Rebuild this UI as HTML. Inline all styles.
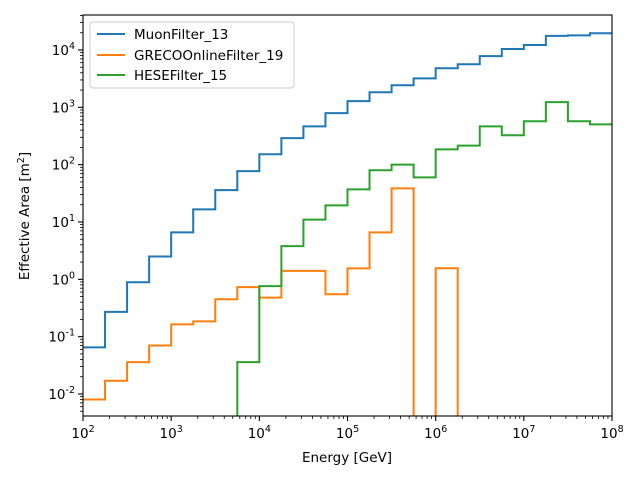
<!DOCTYPE html>
<html><head><meta charset="utf-8"><style>
body{margin:0;background:#fff;position:relative;}
svg{display:block;}
text{font-family:"DejaVu Sans","Liberation Sans",sans-serif;}
</style></head><body>
<svg id="chart" width="640" height="480" xmlns="http://www.w3.org/2000/svg"></svg>
<script>
const binEdgesLog = [2,2.25,2.5,2.75,3,3.25,3.5,3.75,4,4.25,4.5,4.75,5,5.25,5.5,5.75,6,6.25,6.5,6.75,7,7.25,7.5,7.75,8];
const muonValues = [0.065,0.27,0.89,2.5,6.6,16.6,36,77,152,290,466,790,1280,1830,2420,3200,4800,5630,7800,10400,12200,17600,18000,19600];
const grecoValues = [0.008,0.017,0.036,0.07,0.164,0.185,0.45,0.73,0.48,1.4,1.4,0.55,1.55,6.6,38.6,0,1.56,0,0,0,0,0,0,0];
const heseValues = [0,0,0,0,0,0,0,0.036,0.76,3.8,11,19.5,37,80,100,60,185,215,466,325,570,1230,570,505];
const seriesNames = ["MuonFilter_13","GRECOOnlineFilter_19","HESEFilter_15"];
const xTickLabels = ["2","3","4","5","6","7","8"];
const yTickExps = ["-2","-1","0","1","2","3","4"];

const L=83,R=612,T=15,B=416;
const xmin=2,xmax=8,ymin=-2.384,ymax=4.61;
const sx=v=>L+(v-xmin)/(xmax-xmin)*(R-L);
const sy=v=>{if(v<=0)return B+5;const l=Math.log10(v);return B-(l-ymin)/(ymax-ymin)*(B-T);};
const svg=document.getElementById('chart');
const NS='http://www.w3.org/2000/svg';
function mk(tag,attrs,parent){const e=document.createElementNS(NS,tag);for(const k in attrs)e.setAttribute(k,attrs[k]);(parent||svg).appendChild(e);return e;}
const defs=mk('defs',{});const cp=mk('clipPath',{id:'clip'},defs);mk('rect',{x:L,y:T,width:R-L,height:B-T},cp);
const colors=['#1f77b4','#ff7f0e','#2ca02c'];
[muonValues,grecoValues,heseValues].forEach((vals,si)=>{
  let d='';
  for(let i=0;i<vals.length;i++){
    const x0=sx(binEdgesLog[i]),x1=sx(binEdgesLog[i+1]),y=sy(vals[i]);
    d+=(i===0?'M':'L')+x0+','+y+' L'+x1+','+y+' ';
  }
  const p=mk('path',{d:d,fill:'none',stroke:colors[si],'stroke-width':2,'clip-path':'url(#clip)'});
  
  
});
const fr=mk('rect',{x:L,y:T,width:R-L,height:B-T,fill:'none',stroke:'#000','stroke-width':1.1});


xTickLabels.forEach(e=>{
  const v=+e,x=sx(v);
  mk('line',{x1:x,y1:B,x2:x,y2:B+5,stroke:'#000','stroke-width':1.1});
  const t=mk('text',{x:x,y:B+22,'text-anchor':'middle','font-size':13.5});
  
  
  t.innerHTML='10<tspan dy="-6" font-size="9.5">'+e+'</tspan>';
  if(v<8)for(let k=2;k<10;k++){const xm=sx(v+Math.log10(k));mk('line',{x1:xm,y1:B,x2:xm,y2:B+3,stroke:'#000','stroke-width':0.8});}
});
yTickExps.forEach(e=>{
  const v=+e,y=B-(v-ymin)/(ymax-ymin)*(B-T);
  mk('line',{x1:L,y1:y,x2:L-5,y2:y,stroke:'#000','stroke-width':1.1});
  const t=mk('text',{x:L-8,y:y+5,'text-anchor':'end','font-size':13.5});
  
  
  t.innerHTML='10<tspan dy="-6" font-size="9.5">'+e+'</tspan>';
});
for(let v=-3;v<=4;v++)for(let k=2;k<10;k++){const l=v+Math.log10(k);if(l>ymin&&l<ymax){const y=B-(l-ymin)/(ymax-ymin)*(B-T);mk('line',{x1:L,y1:y,x2:L-3,y2:y,stroke:'#000','stroke-width':0.8});}}
</script>
<svg style="position:absolute;left:0;top:0" width="640" height="480" xmlns="http://www.w3.org/2000/svg">
<text x="347" y="462" text-anchor="middle" font-size="13.5">Energy [GeV]</text>
<text transform="translate(29,216) rotate(-90)" text-anchor="middle" font-size="13.5">Effective Area [m<tspan dy="-5" font-size="9.5">2</tspan><tspan dy="5">]</tspan></text>
<g>
<rect x="90" y="22" width="204" height="66" rx="3" fill="#fff" fill-opacity="0.8" stroke="#ccc" stroke-width="1"/>
<line x1="97" y1="34" x2="125" y2="34" stroke="#1f77b4" stroke-width="2"/>
<text x="134" y="39" font-size="13.5">MuonFilter_13</text>
<line x1="97" y1="55" x2="125" y2="55" stroke="#ff7f0e" stroke-width="2"/>
<text x="134" y="60" font-size="13.5">GRECOOnlineFilter_19</text>
<line x1="97" y1="75" x2="125" y2="75" stroke="#2ca02c" stroke-width="2"/>
<text x="134" y="80" font-size="13.5">HESEFilter_15</text>
</g>
</svg>
</body></html>
